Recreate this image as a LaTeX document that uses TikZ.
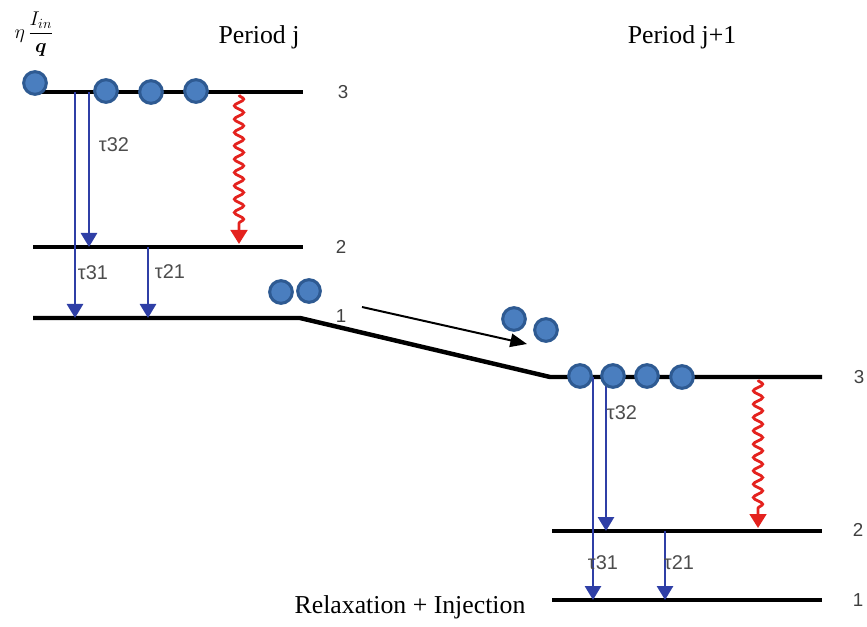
\RequirePackage{fix-cm}
\documentclass[tikz,border=0pt]{standalone}
\usepackage{amsmath,amssymb}
\usepackage{fontspec}
\setmainfont{Liberation Serif}
\newfontfamily\numfont{Liberation Sans}
\usetikzlibrary{arrows.meta,decorations.pathmorphing,positioning}
\definecolor{efill}{HTML}{4A7EBF}
\definecolor{edraw}{HTML}{2E5A92}
\definecolor{tblue}{HTML}{2F3FA6}
\definecolor{pred}{HTML}{E4221E}
\tikzstyle{level}=[line width=3.8pt]
\tikzstyle{electron}=[circle,fill=efill,draw=edraw,line width=2.6pt,minimum size=0.68cm,inner sep=0pt]
\tikzstyle{decay}=[draw=tblue,line width=2.4pt,-{Triangle[length=0.42cm,width=0.48cm]}]
\tikzstyle{photon}=[draw=pred,line width=2.4pt,-{Triangle[length=0.42cm,width=0.5cm]},
  decorate,decoration={snake,amplitude=0.14cm,segment length=0.4cm,post length=0.42cm}]
\tikzstyle{lnum}=[font=\numfont\fontsize{16}{18}\selectfont,text=black!75]
\tikzstyle{tlabel}=[font=\numfont\fontsize{17}{19}\selectfont,text=black!70,inner sep=1pt]
\tikzstyle{title}=[font=\fontsize{22}{26}\selectfont]

\begin{document}
\begin{tikzpicture}[x=0.03cm,y=-0.03cm]
  \useasboundingbox (0,0) rectangle (867,627);

  % levels of period j
  \coordinate (a3w) at (33,92);   \coordinate (a3e) at (303,92);
  \coordinate (a2w) at (33,247);  \coordinate (a2e) at (303,247);
  \coordinate (a1w) at (33,318);  \coordinate (a1e) at (300,318);
  % levels of period j+1
  \coordinate (b3w) at (550,377); \coordinate (b3e) at (822,377);
  \coordinate (b2w) at (552,531); \coordinate (b2e) at (822,531);
  \coordinate (b1w) at (552,600); \coordinate (b1e) at (822,600);

  \draw[level] (a3w) -- (a3e);
  \draw[level] (a2w) -- (a2e);
  \draw[level] (a1w) -- (a1e) -- (b3w) -- (b3e);
  \draw[level] (b2w) -- (b2e);
  \draw[level] (b1w) -- (b1e);

  \node[lnum] (na3) at (343,92)  {3};
  \node[lnum] (na2) at (341,247) {2};
  \node[lnum] (na1) at (341,316) {1};
  \node[lnum] (nb3) at (859,377) {3};
  \node[lnum] (nb2) at (858,530) {2};
  \node[lnum] (nb1) at (858,600) {1};

  \node[title] (pj)  at (259,37)  {Period j};
  \node[title] (pj1) at (682,37)  {Period j+1};
  \node[title] (ri)  at (410,607) {Relaxation + Injection};
  \node[font=\fontsize{17}{20}\selectfont,inner sep=0pt] (inj) at (34,34) {$\eta\,\dfrac{I_{in}}{\boldsymbol{q}}$};

  % transitions, period j
  \coordinate (s31) at (75,92);   \coordinate (e31) at (75,318);
  \coordinate (s32) at (89,92);   \coordinate (e32) at (89,247);
  \coordinate (s21) at (148,247); \coordinate (e21) at (148,318);
  \coordinate (sp)  at (239,95);  \coordinate (ep)  at (239,244);
  \draw[decay] (s31) -- (e31);
  \draw[decay] (s32) -- (e32);
  \draw[decay] (s21) -- (e21);
  \draw[photon] (sp) -- (ep);
  \node[tlabel] (l32) at (114,145) {τ32};
  \node[tlabel] (l31) at (93,273)  {τ31};
  \node[tlabel] (l21) at (170,272) {τ21};

  % transitions, period j+1
  \coordinate (u31) at (593,377); \coordinate (f31) at (593,600);
  \coordinate (u32) at (606,377); \coordinate (f32) at (606,531);
  \coordinate (u21) at (665,531); \coordinate (f21) at (665,600);
  \coordinate (uq)  at (758,380); \coordinate (fq)  at (758,528);
  \draw[decay] (u31) -- (f31);
  \draw[decay] (u32) -- (f32);
  \draw[decay] (u21) -- (f21);
  \draw[photon] (uq) -- (fq);
  \node[tlabel] (m32) at (622,413) {τ32};
  \node[tlabel] (m31) at (603,563) {τ31};
  \node[tlabel] (m21) at (679,563) {τ21};

  % electrons
  \node[electron] (e1) at (35,83)   {};
  \node[electron] (e2) at (106,91)  {};
  \node[electron] (e3) at (151,92)  {};
  \node[electron] (e4) at (196,91)  {};
  \node[electron] (e5) at (281,292) {};
  \node[electron] (e6) at (309,291) {};
  \node[electron] (e7) at (514,319) {};
  \node[electron] (e8) at (546,330) {};
  \node[electron] (e9) at (580,376) {};
  \node[electron] (e10) at (613,376) {};
  \node[electron] (e11) at (647,376) {};
  \node[electron] (e12) at (682,377) {};

  % tunnelling
  \coordinate (hs) at (362,307); \coordinate (he) at (527,344);
  \draw[line width=1.7pt,-{Triangle[length=0.5cm,width=0.4cm]}] (hs) -- (he);
\end{tikzpicture}
\end{document}
